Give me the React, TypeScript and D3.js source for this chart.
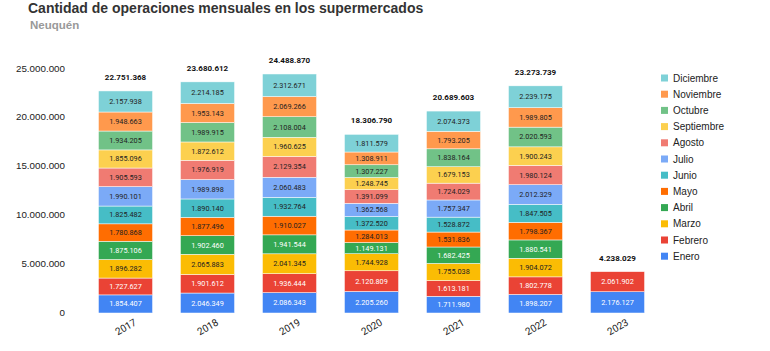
import React from 'react';
import * as d3 from 'd3';

const years = ['2017', '2018', '2019', '2020', '2021', '2022', '2023'];
const months = ['Enero', 'Febrero', 'Marzo', 'Abril', 'Mayo', 'Junio', 'Julio', 'Agosto', 'Septiembre', 'Octubre', 'Noviembre', 'Diciembre'];
const monthColors = ['#4285f4', '#ea4335', '#fbbc04', '#34a853', '#ff6d01', '#46bdc6', '#7baaf7', '#f07b72', '#fcd04f', '#71c287', '#ff994d', '#7ed1d7'];
const whiteText = ['Enero', 'Febrero', 'Abril'];

// one array per year, Enero..Diciembre
const v2017 = [1854407, 1727627, 1896282, 1875106, 1780868, 1825482, 1990101, 1905593, 1855096, 1934205, 1948663, 2157938];
const v2018 = [2046349, 1901612, 2065883, 1902460, 1877496, 1890140, 1989898, 1976919, 1872612, 1989915, 1953143, 2214185];
const v2019 = [2086343, 1936444, 2041345, 1941544, 1910027, 1932764, 2060483, 2129354, 1960625, 2108004, 2069266, 2312671];
const v2020 = [2205260, 2120809, 1744928, 1149131, 1284013, 1372520, 1362568, 1391099, 1248745, 1307227, 1308911, 1811579];
const v2021 = [1711980, 1613181, 1755038, 1682425, 1531836, 1528872, 1757347, 1724029, 1679153, 1838164, 1793205, 2074373];
const v2022 = [1898207, 1802778, 1904072, 1880541, 1798367, 1847505, 2012329, 1980124, 1900243, 2020593, 1989805, 2239175];
const v2023 = [2176127, 2061902];
const totals = [22751368, 23680612, 24488870, 18306790, 20689603, 23273739, 4238029];
const yTicks = [0, 5000000, 10000000, 15000000, 20000000, 25000000];

const values = [v2017, v2018, v2019, v2020, v2021, v2022, v2023];

const fmt = (n: number) => d3.format(',')(n).replace(/,/g, '.');

export default function App() {
  const width = 770;
  const height = 351;
  const x = d3.scaleBand().domain(years).range([84.5, 658.5]).paddingInner(0.34).paddingOuter(0.17);
  const y = d3.scaleLinear().domain([0, 25000000]).range([313, 69]);
  const font = 'Roboto, Arial, sans-serif';

  return (
    <svg width={width} height={height} style={{ position: 'absolute', left: 0, top: 0, fontFamily: font }}>
      <rect width={width} height={height} fill="#fff" />
      <text x={28} y={13} fontSize={14} fontWeight="bold" fill="#333" fontFamily="Arial, 'Liberation Sans', sans-serif">Cantidad de operaciones mensuales en los supermercados</text>
      <text x={30} y={29} fontSize={11.5} fontWeight="bold" fill="#999" fontFamily="Arial, 'Liberation Sans', sans-serif">Neuquén</text>

      {yTicks.map(t => (
        <text key={t} x={65} y={y(t)} textAnchor="end" dominantBaseline="middle" fontSize={9.8} fill="#222" fontFamily="Arial, 'Liberation Sans', sans-serif">{fmt(t)}</text>
      ))}

      {years.map((yr, i) => {
        let acc = 0;
        const bx = x(yr)!;
        const bw = x.bandwidth();
        return (
          <g key={yr}>
            {values[i].map((v, m) => {
              const y0 = y(acc);
              acc += v;
              const y1 = y(acc);
              return (
                <g key={m}>
                  <rect x={bx} y={y1} width={bw} height={y0 - y1} fill={monthColors[m]} stroke="#fff" strokeWidth={0.5} />
                  <text x={bx + bw / 2} y={(y0 + y1) / 2} textAnchor="middle" dominantBaseline="central" fontSize={7.3}
                    fill={whiteText.includes(months[m]) ? '#fff' : '#222'}>{fmt(v)}</text>
                </g>
              );
            })}
            <text x={bx + bw / 2} y={y(totals[i]) - 11} textAnchor="middle" fontSize={8} fontWeight="bold" fill="#111">{fmt(totals[i])}</text>
            <text transform={`translate(${bx + bw / 2 + 2},${330}) rotate(-30)`} textAnchor="middle" fontSize={10} fill="#222">{yr}</text>
          </g>
        );
      })}

      {months.slice().reverse().map((m, i) => {
        const idx = months.length - 1 - i;
        const ly = 78 + i * 16.2;
        return (
          <g key={m}>
            <rect x={661} y={ly - 3.5} width={7} height={7} fill={monthColors[idx]} />
            <text x={673} y={ly} dominantBaseline="central" fontSize={10} fill="#222" fontFamily="Arial, 'Liberation Sans', sans-serif">{m}</text>
          </g>
        );
      })}
    </svg>
  );
}
